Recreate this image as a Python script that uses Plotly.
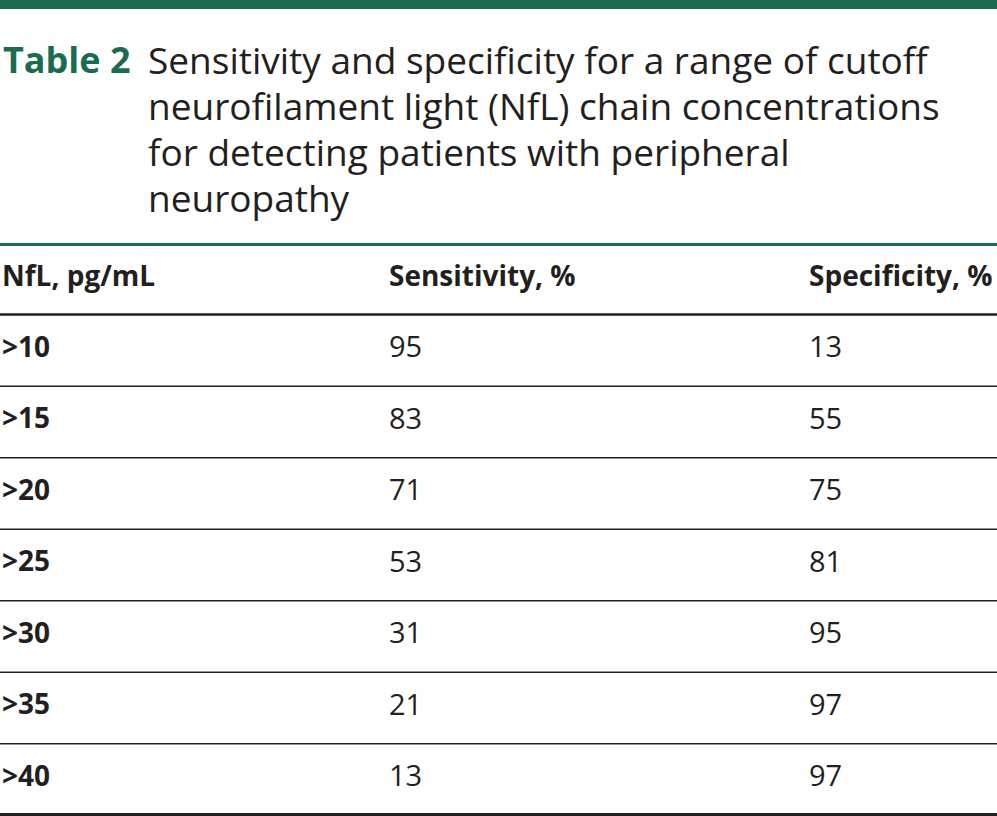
import plotly.graph_objects as go

title_label = "Table 2"
title_lines = [
    "Sensitivity and specificity for a range of cutoff",
    "neurofilament light (NfL) chain concentrations",
    "for detecting patients with peripheral",
    "neuropathy",
]
headers = ["NfL, pg/mL", "Sensitivity, %", "Specificity, %"]
cutoffs = [">10", ">15", ">20", ">25", ">30", ">35", ">40"]
sensitivity = [95, 83, 71, 53, 31, 21, 13]
specificity = [13, 55, 75, 81, 95, 97, 97]

W, H = 997, 816
GREEN = "#1b6b50"
TEXT = "#231f20"
FONT = "Open Sans"

col_x = [0, 387, 807]
title_y0, title_dy = 59, 46
header_y = 275
row_y0, row_dy = 345.5, 71.5

fig = go.Figure()
shapes = []
ann = []

# top bar
shapes.append(dict(type="rect", x0=0, x1=W, y0=0, y1=9, fillcolor=GREEN, line_width=0, layer="above"))

ann.append(dict(x=1, y=title_y0, text="<b>" + title_label + "</b>", xanchor="left", yanchor="middle",
                showarrow=False, font=dict(family=FONT, size=36, color=GREEN)))
for i, t in enumerate(title_lines):
    ann.append(dict(x=146, y=title_y0 + i * title_dy, text=t, xanchor="left", yanchor="middle",
                    showarrow=False, font=dict(family=FONT, size=37, color=TEXT)))

# header rule
shapes.append(dict(type="line", x0=0, x1=W, y0=244.5, y1=244.5, line=dict(color=GREEN, width=3)))
for x, h in zip(col_x, headers):
    ann.append(dict(x=x, y=header_y, text="<b>" + h + "</b>", xanchor="left", yanchor="middle",
                    showarrow=False, font=dict(family=FONT, size=28, color=TEXT)))
shapes.append(dict(type="line", x0=0, x1=W, y0=314.5, y1=314.5, line=dict(color=TEXT, width=2.5)))

n = len(cutoffs)
for i in range(n):
    y = row_y0 + i * row_dy
    ann.append(dict(x=col_x[0], y=y, text="<b>" + cutoffs[i] + "</b>", xanchor="left", yanchor="middle",
                    showarrow=False, font=dict(family=FONT, size=28, color=TEXT)))
    ann.append(dict(x=col_x[1], y=y, text=str(sensitivity[i]), xanchor="left", yanchor="middle",
                    showarrow=False, font=dict(family=FONT, size=29, color=TEXT)))
    ann.append(dict(x=col_x[2], y=y, text=str(specificity[i]), xanchor="left", yanchor="middle",
                    showarrow=False, font=dict(family=FONT, size=29, color=TEXT)))
    if i < n - 1:
        ly = row_y0 + (i + 0.5) * row_dy + 5
        shapes.append(dict(type="line", x0=0, x1=W, y0=ly, y1=ly, line=dict(color=TEXT, width=1.5)))

shapes.append(dict(type="line", x0=0, x1=W, y0=814.5, y1=814.5, line=dict(color=TEXT, width=3)))

fig.update_layout(
    width=W, height=H,
    margin=dict(l=0, r=0, t=0, b=0),
    paper_bgcolor="white", plot_bgcolor="white",
    xaxis=dict(range=[0, W], visible=False, fixedrange=True),
    yaxis=dict(range=[H, 0], visible=False, fixedrange=True),
    shapes=shapes, annotations=ann, showlegend=False,
)

fig.write_html("out.html", config={"displayModeBar": False},
               post_script="document.body.style.margin='0';document.body.style.overflow='hidden';")
